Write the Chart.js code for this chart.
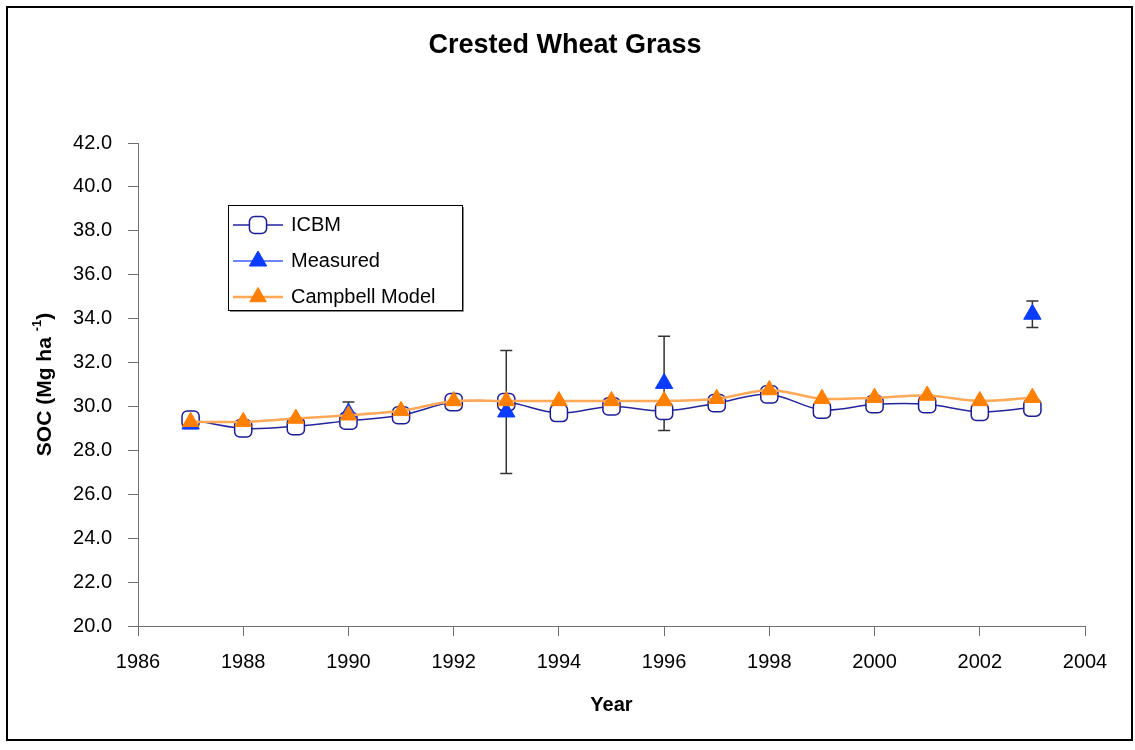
<!DOCTYPE html>
<html>
<head>
<meta charset="utf-8">
<script src="https://cdn.jsdelivr.net/npm/chart.js@4.4.0/dist/chart.umd.min.js"></script>
<style>
  html, body { margin: 0; padding: 0; background: #fff; }
  canvas { display: block; }
</style>
</head>
<body>
<canvas id="c" width="1135" height="750"></canvas>
<script>
// Soil organic carbon under crested wheat grass
const years = [1987, 1988, 1989, 1990, 1991, 1992, 1993, 1994, 1995, 1996, 1997, 1998, 1999, 2000, 2001, 2002, 2003];
const icbm = [29.4, 29.0, 29.1, 29.35, 29.6, 30.2, 30.2, 29.7, 30.0, 29.8, 30.15, 30.55, 29.85, 30.1, 30.1, 29.75, 29.95];
const campbell = [29.3, 29.3, 29.45, 29.6, 29.8, 30.25, 30.25, 30.25, 30.25, 30.25, 30.35, 30.75, 30.35, 30.4, 30.5, 30.25, 30.4];

const measuredYears = [1987, 1990, 1993, 1996, 2003];
const measured = [29.2, 29.7, 29.75, 31.05, 34.2];
const measuredErr = [0.2, 0.5, 2.8, 2.15, 0.6];

const xTickValues = [1986, 1988, 1990, 1992, 1994, 1996, 1998, 2000, 2002, 2004];
const yTickValues = [20, 22, 24, 26, 28, 30, 32, 34, 36, 38, 40, 42];

const seriesNames = ['ICBM', 'Measured', 'Campbell Model'];
const chartTitle = 'Crested Wheat Grass';

const FONT = "'Liberation Sans', Arial, sans-serif";
Chart.defaults.font.family = FONT;
Chart.defaults.color = '#000';

const AXIS_COLOR = '#707070';

// White background, outer frame and the chart title
const framePlugin = {
  id: 'frame',
  beforeDraw(chart) {
    const ctx = chart.ctx;
    ctx.save();
    ctx.fillStyle = '#fff';
    ctx.fillRect(0, 0, chart.width, chart.height);
    ctx.strokeStyle = '#000';
    ctx.lineWidth = 2;
    ctx.strokeRect(7, 7, 1125, 733);
    ctx.fillStyle = '#000';
    ctx.font = 'bold 27px ' + FONT;
    ctx.textAlign = 'center';
    ctx.textBaseline = 'middle';
    ctx.fillText(chartTitle, 565, 46);
    ctx.restore();
  }
};

// Error bars for the measured values, drawn under the markers
const errorBarPlugin = {
  id: 'errorBars',
  beforeDatasetsDraw(chart) {
    const ctx = chart.ctx;
    const xs = chart.scales.x, ys = chart.scales.y;
    ctx.save();
    ctx.strokeStyle = '#333';
    ctx.lineWidth = 1.5;
    measuredYears.forEach((yr, i) => {
      const px = xs.getPixelForValue(yr);
      const top = ys.getPixelForValue(measured[i] + measuredErr[i]);
      const bot = ys.getPixelForValue(measured[i] - measuredErr[i]);
      ctx.beginPath();
      ctx.moveTo(px, top); ctx.lineTo(px, bot);
      ctx.moveTo(px - 6, top); ctx.lineTo(px + 6, top);
      ctx.moveTo(px - 6, bot); ctx.lineTo(px + 6, bot);
      ctx.stroke();
    });
    ctx.restore();
  }
};

// Y axis title with superscript unit, and the boxed legend
const decorPlugin = {
  id: 'decor',
  afterDraw(chart) {
    const ctx = chart.ctx;
    const area = chart.chartArea;

    // y axis title
    ctx.save();
    ctx.translate(45, (area.top + area.bottom) / 2);
    ctx.rotate(-Math.PI / 2);
    ctx.fillStyle = '#000';
    ctx.textBaseline = 'middle';
    ctx.textAlign = 'left';
    const mainFont = 'bold 21px ' + FONT;
    const supFont = 'bold 13px ' + FONT;
    const partA = 'SOC (Mg ha ', partSup = '-1', partB = ')';
    ctx.font = mainFont;
    const wA = ctx.measureText(partA).width, wB = ctx.measureText(partB).width;
    ctx.font = supFont;
    const wS = ctx.measureText(partSup).width;
    let x0 = -(wA + wS + wB) / 2;
    ctx.font = mainFont;
    ctx.fillText(partA, x0, 0);
    ctx.font = supFont;
    ctx.fillText(partSup, x0 + wA, -8);
    ctx.font = mainFont;
    ctx.fillText(partB, x0 + wA + wS, 0);
    ctx.restore();

    // legend box
    const box = { x: 228, y: 205, w: 234, h: 105 };
    ctx.save();
    ctx.fillStyle = '#fff';
    ctx.fillRect(box.x, box.y, box.w, box.h);
    ctx.strokeStyle = '#000';
    ctx.lineWidth = 1;
    ctx.strokeRect(box.x + 0.5, box.y + 0.5, box.w, box.h);
    ctx.strokeStyle = '#888';
    ctx.beginPath();
    ctx.moveTo(box.x + box.w + 1.5, box.y + 2); ctx.lineTo(box.x + box.w + 1.5, box.y + box.h + 1.5);
    ctx.lineTo(box.x + 2, box.y + box.h + 1.5);
    ctx.stroke();

    const rowY = [225, 261, 297];
    [0, 1, 2].forEach((di, r) => {
      const ds = chart.data.datasets[di];
      const y = rowY[r];
      ctx.strokeStyle = ds.borderColor;
      ctx.lineWidth = ds.borderWidth;
      ctx.beginPath();
      ctx.moveTo(233, y); ctx.lineTo(283, y);
      ctx.stroke();
      ctx.fillStyle = ds.pointBackgroundColor;
      ctx.strokeStyle = ds.pointBorderColor;
      ctx.lineWidth = ds.pointBorderWidth;
      Chart.helpers.drawPoint(ctx, {
        pointStyle: ds.pointStyle, radius: ds.pointRadius,
        borderWidth: ds.pointBorderWidth, rotation: 0
      }, 258, y);
      ctx.fillStyle = '#000';
      ctx.font = '20px ' + FONT;
      ctx.textBaseline = 'middle';
      ctx.textAlign = 'left';
      ctx.fillText(ds.label, 291, y);
    });
    ctx.restore();
  }
};

new Chart(document.getElementById('c'), {
  type: 'line',
  data: {
    datasets: [
      {
        label: seriesNames[0],
        data: years.map((yr, i) => ({ x: yr, y: icbm[i] })),
        borderColor: '#24249c',
        borderWidth: 1.5,
        tension: 0.35,
        pointStyle: 'rectRounded',
        pointRadius: 10,
        pointBackgroundColor: '#fff',
        pointBorderColor: '#1c1c96',
        pointBorderWidth: 1.5,
        order: 2
      },
      {
        label: seriesNames[1],
        data: measuredYears.map((yr, i) => ({ x: yr, y: measured[i] })),
        showLine: false,
        borderColor: '#3d5cff',
        borderWidth: 1.5,
        pointStyle: 'triangle',
        pointRadius: 10,
        pointBackgroundColor: '#0a3cff',
        pointBorderColor: '#0a3cff',
        pointBorderWidth: 1,
        order: 1
      },
      {
        label: seriesNames[2],
        data: years.map((yr, i) => ({ x: yr, y: campbell[i] })),
        borderColor: '#ffa858',
        borderWidth: 2.5,
        tension: 0.3,
        pointStyle: 'triangle',
        pointRadius: 9.5,
        pointBackgroundColor: '#ff8000',
        pointBorderColor: '#ff8000',
        pointBorderWidth: 1,
        order: 0
      }
    ]
  },
  options: {
    responsive: false,
    animation: false,
    events: [],
    layout: { padding: { left: 0, right: 50, top: 143, bottom: 0 } },
    plugins: {
      legend: { display: false },
      tooltip: { enabled: false },
      title: { display: false }
    },
    scales: {
      x: {
        type: 'linear',
        min: 1986, max: 2004,
        afterBuildTicks(scale) { scale.ticks = xTickValues.map(v => ({ value: v })); },
        afterFit(scale) { scale.height = 124; },
        grid: { drawOnChartArea: false, drawTicks: true, tickLength: 10, color: AXIS_COLOR },
        border: { display: true, color: AXIS_COLOR, width: 1 },
        ticks: {
          padding: 14,
          font: { size: 20 },
          color: '#000',
          maxRotation: 0,
          callback: v => String(v)
        },
        title: {
          display: true,
          text: 'Year',
          font: { size: 20, weight: 'bold' },
          color: '#000',
          padding: { top: 0, bottom: 33 }
        }
      },
      y: {
        type: 'linear',
        min: 20, max: 42,
        afterBuildTicks(scale) { scale.ticks = yTickValues.map(v => ({ value: v })); },
        afterFit(scale) { scale.width = 138; },
        grid: { drawOnChartArea: false, drawTicks: true, tickLength: 10, color: AXIS_COLOR },
        border: { display: true, color: AXIS_COLOR, width: 1 },
        ticks: {
          padding: 16,
          font: { size: 20 },
          color: '#000',
          callback: v => Number(v).toFixed(1)
        },
        title: { display: false }
      }
    }
  },
  plugins: [framePlugin, errorBarPlugin, decorPlugin]
});
</script>
</body>
</html>
